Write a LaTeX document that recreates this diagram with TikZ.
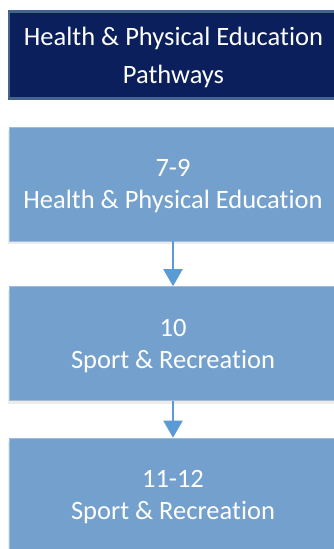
\documentclass[tikz,border=0pt]{standalone}
\usepackage{fontspec}
\setmainfont{Carlito}[Ligatures={NoCommon}]
\usetikzlibrary{arrows.meta,shadows}
\definecolor{navy}{HTML}{0A1F5C}
\definecolor{navyedge}{HTML}{45658B}
\definecolor{stepfill}{HTML}{74A0CD}
\definecolor{stepedge}{HTML}{A3BBD6}
\definecolor{arrowblue}{HTML}{5B9BD5}
\tikzset{
  boxtext/.style={text=white, align=center, font=\fontsize{26.5}{32}\selectfont, inner sep=0pt, text depth=0pt},
  titlebox/.style={boxtext, draw=navyedge, line width=2.5pt, fill=navy,
    minimum width=329pt, minimum height=87pt, font=\fontsize{26.5}{38}\selectfont},
  stepbox/.style={boxtext, draw=stepedge, line width=0.6pt, fill=stepfill,
    minimum width=328pt, minimum height=114pt,
    drop shadow={shadow xshift=-1pt, shadow yshift=-3pt, opacity=0.15}},
  flowarrow/.style={draw=arrowblue, line width=2pt, -{Triangle[width=19pt,length=17pt]}}
}
\begin{document}
\begin{tikzpicture}[x=1pt,y=-1pt]
\useasboundingbox (0,0) rectangle (333,549);
\node[titlebox] (title) at (173.5,55) {Health \& Physical Education\\Pathways};
\node[stepbox] (b1) at (173,184) {7-9\\Health \& Physical Education};
\node[stepbox] (b2) at (173,343.5) {10\\Sport \& Recreation};
\node[stepbox] (b3) at (173,495) {11-12\\Sport \& Recreation};
\draw[flowarrow] (b1.south) -- (b2.north);
\draw[flowarrow] (b2.south) -- (b3.north);
\end{tikzpicture}
\end{document}
